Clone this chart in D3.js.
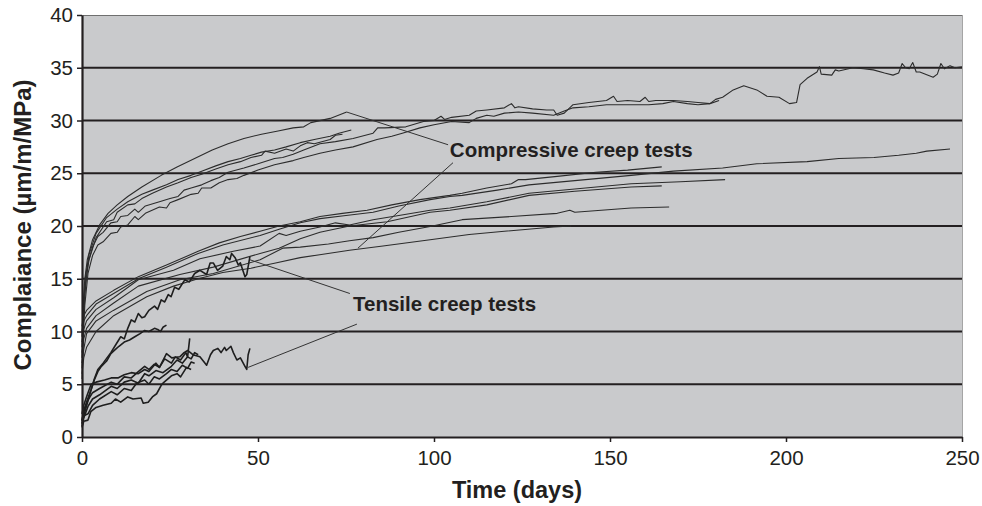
<!DOCTYPE html>
<html><head><meta charset="utf-8">
<script src="https://cdn.jsdelivr.net/npm/d3@7"></script>
<style>
html,body{margin:0;padding:0;background:#fff;}
svg{display:block;font-family:"Liberation Sans",Arial,Helvetica,sans-serif;}
</style></head><body>
<svg id="chart" width="982" height="506"></svg>
<script>
// ---------- data (day, compliance) ----------
const xTicks = [0, 50, 100, 150, 200, 250];
const yTicks = [0, 5, 10, 15, 20, 25, 30, 35, 40];
const gridValues = [5, 10, 15, 20, 25, 30, 35];

// Compressive creep tests – upper cluster
const compTop = [[0,9.5],[0.3,12.5],[0.8,15.0],[1.5,16.8],[3,18.7],[5,20.1],[7.4,21.2],[10,22.0],[13,22.8],[17,23.7],[22.5,24.8],[27,25.6],[32,26.4],[37,27.2],[41.5,27.8],[46,28.3],[51,28.7],[55.7,29.0],[60,29.3],[63,29.4],[65,29.8],[70.5,30.2],[75.2,30.8]];
const compB1 = [[0,8.5],[0.4,12.5],[1,15.2],[2,17.3],[4,19.3],[7,20.8],[10,21.6],[13,22.3],[17,23.0],[20,23.4],[24,23.9],[27.3,24.4],[31,24.8],[34,25.2],[38,25.7],[41.5,26.1],[45,26.4],[48,26.7],[51,27.0],[54.7,27.2],[58,27.5],[62,27.9],[66,28.2],[70.5,28.5],[73,28.8],[76.5,29.1]];
const compB2 = [[0,7.5],[0.4,11.5],[1,14.6],[2,16.8],[4,18.9],[7,20.4],[9,20.6],[10,21.3],[13,22.0],[15,22.1],[17,22.6],[20,23.1],[24,23.7],[27.3,24.1],[31,24.6],[34,24.9],[38,25.4],[41.5,25.8],[45,26.1],[48,26.5],[51,26.7],[52,27.1],[54.7,26.9],[58,27.3],[60,27.1],[62,27.6],[64,27.9],[66,27.8],[70.5,28.2],[72,28.6],[74,28.7]];
const compLong1 = [[0,6.5],[0.3,10],[0.8,13.5],[1.7,16.5],[3,18],[4.5,19],[6,19.4],[8.2,20.3],[10,20.4],[11,20.9],[13,21.0],[15,21.6],[16,21.3],[18,21.9],[22,22.3],[25,22.6],[27.3,22.8],[29,23.4],[31,23.6],[34,23.9],[36.6,24.3],[39,24.6],[41.5,25.1],[46,25.5],[50,25.9],[54.7,26.4],[57,26.5],[60,26.8],[63,27.2],[67.6,27.8],[72,28.0],[77,28.3],[82.7,28.8],[84,29.3],[86,29.3],[92,29.4],[97,29.9],[100,30.0],[102,30.4],[103,30.1],[105,30.3],[110,30.5],[112,30.9],[115,31.0],[120,31.2],[122,31.6],[123,31.2],[124,31.3],[128,31.1],[132,31.0],[134,31.0],[135,30.5],[137,30.7],[139.5,31.5],[144,31.7],[149,31.9],[151,32.3],[152,31.8],[155,31.9],[158.5,31.8],[160,32.2],[161,31.8],[163,31.9],[168,31.9],[172,31.8],[175,31.7],[178.4,31.6],[180,32.0],[182,32.2],[185,32.9],[188,33.3],[191.7,32.9],[194.6,32.3],[198,32.2],[201,31.6],[203,31.7],[204,33.4],[206,34.0],[208.8,34.6],[209.5,35.1],[210,34.4],[213,34.3],[214,34.8],[215,34.7],[219,35.0],[222,34.9],[224.8,34.8],[228,34.5],[230.4,34.3],[232,34.5],[233,35.4],[234,35.0],[235,34.9],[236,35.5],[237,34.6],[238,34.6],[241.8,34.1],[243,34.4],[244,35.4],[245,34.9],[246.6,35.2],[248,35.0],[250,35.1]];
const compLong2 = [[0,5.5],[0.3,9],[0.8,12.5],[1.7,15.5],[3,17.2],[4.5,18.2],[6,18.5],[8.2,19.3],[10,19.4],[11,19.9],[13,20.1],[15,20.9],[16,20.6],[18,21.2],[22,21.8],[24,21.7],[25,22.2],[27.3,22.5],[31,23.0],[33,23.1],[34,23.6],[36.6,23.6],[39,24.1],[41.5,24.4],[44,24.5],[46,24.8],[50,25.3],[54.7,25.8],[60,26.2],[63,26.5],[67.6,26.9],[72,27.2],[77,27.5],[83.8,28.2],[88,28.5],[91,28.8],[96,29.3],[100,29.6],[105,29.9],[110,29.8],[112,30.2],[115,30.5],[117,30.4],[120,30.7],[124,30.8],[128,30.7],[134,30.5],[137,30.9],[139.5,31.2],[144,31.3],[149,31.5],[155,31.5],[161,31.5],[165,31.6],[168,31.8],[172,31.6],[175,31.5],[178.4,31.6],[181,31.9]];

// Compressive creep tests – middle cluster
const compMidA = [[0,10],[0.5,11],[1.3,11.5],[4,12.6],[9,13.6],[16,15.0],[24,16.1],[33,17.4],[40,18.2],[50.6,19.1],[56,19.7],[62,20.3],[67.6,20.7],[75,21.0],[82.7,21.3],[90,21.9],[98.9,22.5],[104.5,22.8],[108,22.9],[118,23.4],[127,23.9],[140,24.3],[156,24.8],[168,25.2],[182,25.5],[191.7,25.9],[206,26.1],[215,26.4],[225,26.5],[232,26.7],[237,26.9],[240,27.1],[246.6,27.3]];
const compMidB = [[0,10.5],[0.5,11.5],[1.3,12.0],[4,12.9],[9,13.9],[16,15.2],[24,16.3],[33,17.6],[39,18.4],[45,19.0],[50.6,19.5],[56,20.0],[62,20.4],[67.6,20.9],[74,21.2],[81,21.5],[88,22.0],[96,22.5],[104.5,22.9],[108,23.1],[115,23.6],[122,24.0],[124,24.4],[126,24.4],[135,24.7],[146,25.1],[155,25.3],[164.7,25.6]];
const compMidC = [[0,9],[0.5,10.2],[1.3,11.0],[4,12.1],[9,13.2],[16,14.9],[26,15.8],[33.5,16.9],[43,17.6],[50.6,18.1],[56,19.3],[58,19.1],[62,19.5],[67.6,19.9],[72,20.3],[76,20.1],[82.7,20.6],[90,21.0],[98.9,21.5],[104.5,21.7],[115,22.3],[127,23.1],[140,23.5],[156,24.0],[170,24.2],[182.7,24.4]];
const compMidD = [[0,8],[0.5,9.3],[1.3,10.3],[4,11.5],[9,12.7],[16,14.3],[27.8,15.4],[37.3,16.1],[50.6,17.4],[56,17.9],[62,18.8],[67.6,19.4],[76,20.0],[86.7,20.4],[98.9,21.3],[104.5,21.5],[115,22.0],[127,22.9],[140,23.3],[156,23.7],[164.7,23.8]];
const compMidE = [[0,7],[0.5,8.3],[1.3,9.8],[4,11],[8.9,12.0],[18.4,13.8],[27.8,14.9],[37.3,15.5],[50.6,16.8],[57,17.9],[62,18.0],[70,18.3],[76,18.6],[82.7,18.9],[90,19.4],[98.9,19.95],[108,20.6],[122,20.9],[135,21.2],[138.6,21.5],[140,21.3],[156,21.7],[166.8,21.8]];
const compMidF = [[0,6],[0.5,7.5],[1.3,8.5],[4,10.0],[9,11.5],[18.4,13.3],[26,14.3],[33,15.0],[40,15.6],[48,16.0],[55,16.5],[62,17.0],[68,17.3],[76,17.7],[85.5,18.1],[98.9,18.7],[110,19.2],[120,19.5],[134,19.9],[139,20.0]];

// Tensile creep tests
const tensT1 = [[0,1.5],[0.5,2.5],[1.5,3.5],[2.6,4.5],[3.5,5.5],[4.5,6.4],[6,7.0],[8.2,8.0],[9.5,8.7],[11,9.5],[12,9.3],[13,10.3],[14,11.1],[15,10.9],[16,11.7],[17,11.3],[17.8,11.4],[19,12.0],[20.6,12.4],[21.5,12.1],[22.5,13.0],[23.5,12.8],[24.5,13.5],[25.3,13.3],[26.3,14.2],[27.5,14.0],[29.2,14.9],[30.5,14.7],[32,15.5],[33.5,15.8],[35.4,15.4],[36.4,16.5],[37.3,16.5],[38.5,15.8],[40,16.2],[41,17.1],[42,16.8],[42.5,17.4],[43.5,17.0],[44.4,16.3],[45,16.5],[46.3,15.2],[46.8,15.4],[47.7,17.1]];
const tensT2 = [[0,1.2],[0.5,2.0],[1.5,3.2],[2.6,4.5],[3.5,5.4],[4.5,6.2],[5.5,6.7],[7,7.2],[8.2,7.9],[9.5,8.3],[10.5,8.6],[12,9.0],[13.5,9.2],[15,9.5],[16.5,9.8],[17.8,10.1],[19,10.0],[20.6,10.3],[21.5,10.2],[22.3,10.0],[23,10.4],[24,10.6]];
const tensB1 = [[0,2.2],[0.5,3.0],[1.5,4.0],[2.6,5.0],[4,5.2],[6.4,5.4],[8.3,5.6],[10.2,5.6],[12,5.9],[14,6.1],[16,6.0],[17.8,6.4],[19,6.2],[21,7.0],[22,6.6],[24,7.9],[25.5,7.5],[27.8,7.6],[29,8.0],[30,8.2],[31.5,7.8],[33.5,7.6],[35.4,6.8],[36.5,7.8],[37.3,8.2],[38.6,8.4],[39.5,8.0],[40.5,8.5],[41,8.2],[42.3,8.6],[43,8.0],[44,7.3],[45,7.5],[46.3,6.7],[46.8,6.4],[47.2,7.8],[47.7,8.4]];
const tensB2 = [[0,1.6],[0.5,2.4],[1.7,3.5],[3,4.2],[5,4.6],[8.3,5.2],[10,5.0],[12,5.7],[14,5.6],[16,6.2],[17.8,6.7],[19,6.4],[20.5,6.9],[22,6.6],[23.5,7.4],[25.4,7.0],[26.5,7.6],[28,7.3],[29.5,8.0],[30,7.6],[30.6,9.35]];
const tensB3 = [[0,1.0],[0.5,1.8],[1.7,2.9],[3,3.6],[5,4.0],[8.3,4.8],[10,4.6],[12,5.2],[14,5.4],[16,5.1],[17.8,6.0],[19,5.8],[21,6.3],[23,6.1],[25.4,6.7],[27,7.3],[28.5,7.0],[30,7.6],[31,7.4],[32,8.0],[33,7.8]];
const tensB4 = [[0,1.3],[0.5,2.0],[1.7,2.2],[3,3.0],[5,3.6],[8.3,4.3],[10,4.0],[12,4.6],[14,4.4],[15.5,5.1],[17.8,5.4],[19,5.0],[20.5,5.7],[22,5.5],[24,6.0],[25.4,6.4],[27,6.2],[28.5,6.8],[30,6.5],[31,7.1],[32,7.0]];
const tensB5 = [[0,0.9],[0.5,1.5],[1.7,1.6],[2.5,2.4],[4,2.8],[6,3.0],[8.3,3.2],[9.5,3.6],[11,3.3],[13,3.8],[14.5,3.6],[16.8,3.7],[17.4,3.2],[18.8,3.3],[20,3.8],[21.2,4.1],[22.5,4.9],[23,5.1],[25.4,5.8],[27,6.0],[28,5.7],[29.7,6.6],[31,6.4]];

const compressive = [compMidA, compMidB, compMidC, compMidD, compMidE, compMidF, compLong2, compLong1, compB2, compB1, compTop];
const tensile = [tensB5, tensB4, tensB3, tensB2, tensB1, tensT2, tensT1];

// annotation leaders and labels
const leaderLines = [
  [[75.2,30.8],[104.0,27.7]],
  [[105.4,26.0],[78.4,17.9]],
  [[47.7,16.8],[76.1,13.6]],
  [[47.2,6.6],[78.1,10.7]]
];
const annotationTexts = ["Compressive creep tests", "Tensile creep tests"];
const annotationAnchors = [[104.5,26.5],[77.0,11.9]];
const xTitle = "Time (days)";
const yTitle = "Complaiance (µm/m/MPa)";

// ---------- drawing ----------
const W = 982, H = 506;
const m = {top: 15, right: 20, bottom: 69, left: 82};
const x = d3.scaleLinear().domain([0, 250]).range([m.left, W - m.right]);
const y = d3.scaleLinear().domain([0, 40]).range([H - m.bottom, m.top]);
const svg = d3.select("#chart");
const ink = "#231f20";
const font = '"Liberation Sans", Arial, Helvetica, sans-serif';

svg.append("rect")
  .attr("x", x(0)).attr("y", y(40))
  .attr("width", x(250) - x(0)).attr("height", y(0) - y(40))
  .attr("fill", "#c9cacc");

// top and right frame
svg.append("line").attr("x1", x(0)).attr("x2", x(250)).attr("y1", y(40) + 0.5).attr("y2", y(40) + 0.5)
  .attr("stroke", "#6f6f6f").attr("stroke-width", 1);
svg.append("line").attr("x1", x(250) + 0.5).attr("x2", x(250) + 0.5).attr("y1", y(40)).attr("y2", y(0))
  .attr("stroke", "#a5a5a5").attr("stroke-width", 1);

// gridlines
svg.append("g").selectAll("line").data(gridValues).join("line")
  .attr("x1", x(0)).attr("x2", x(250))
  .attr("y1", d => y(d)).attr("y2", d => y(d))
  .attr("stroke", ink).attr("stroke-width", 2);

const line = d3.line().x(d => x(d[0])).y(d => y(d[1]));

svg.append("g").selectAll("path").data(compressive).join("path")
  .attr("d", line).attr("fill", "none")
  .attr("stroke", "#2c2c2c").attr("stroke-width", 1.1).attr("stroke-linejoin", "round");

svg.append("g").selectAll("path").data(tensile).join("path")
  .attr("d", line).attr("fill", "none")
  .attr("stroke", "#1e1e1e").attr("stroke-width", 1.6).attr("stroke-linejoin", "round");

svg.append("g").selectAll("path").data(leaderLines).join("path")
  .attr("d", line).attr("fill", "none")
  .attr("stroke", "#333").attr("stroke-width", 1);

svg.append("g").selectAll("text").data(annotationTexts).join("text")
  .attr("x", (d, i) => x(annotationAnchors[i][0]))
  .attr("y", (d, i) => y(annotationAnchors[i][1]))
  .attr("font-family", font).attr("font-size", 20.5).attr("font-weight", "bold")
  .attr("fill", ink).text(d => d);

// axes
const yAxis = d3.axisLeft(y).tickValues(yTicks).tickSize(5).tickSizeOuter(0).tickPadding(4);
svg.append("g").attr("transform", `translate(${x(0)},0)`).call(yAxis)
  .attr("font-family", font).attr("font-size", 20.5)
  .call(g => g.select(".domain").attr("stroke", ink).attr("stroke-width", 2.2))
  .call(g => g.selectAll(".tick line").attr("stroke", ink).attr("stroke-width", 1.5))
  .call(g => g.selectAll(".tick text").attr("fill", ink));

const xAxis = d3.axisBottom(x).tickValues(xTicks).tickSize(5).tickSizeOuter(0).tickPadding(8);
svg.append("g").attr("transform", `translate(0,${y(0)})`).call(xAxis)
  .attr("font-family", font).attr("font-size", 20.5)
  .call(g => g.select(".domain").attr("stroke", ink).attr("stroke-width", 2.2))
  .call(g => g.selectAll(".tick line").attr("stroke", ink).attr("stroke-width", 1.5))
  .call(g => g.selectAll(".tick text").attr("fill", ink));

// axis titles
svg.append("text")
  .attr("x", 517).attr("y", 498)
  .attr("text-anchor", "middle")
  .attr("font-family", font).attr("font-size", 23.5).attr("font-weight", "bold")
  .attr("fill", ink).text(xTitle);

svg.append("text")
  .attr("transform", "translate(31,225) rotate(-90)")
  .attr("text-anchor", "middle")
  .attr("font-family", font).attr("font-size", 24).attr("font-weight", "bold")
  .attr("fill", ink).text(yTitle);
</script>
</body></html>
